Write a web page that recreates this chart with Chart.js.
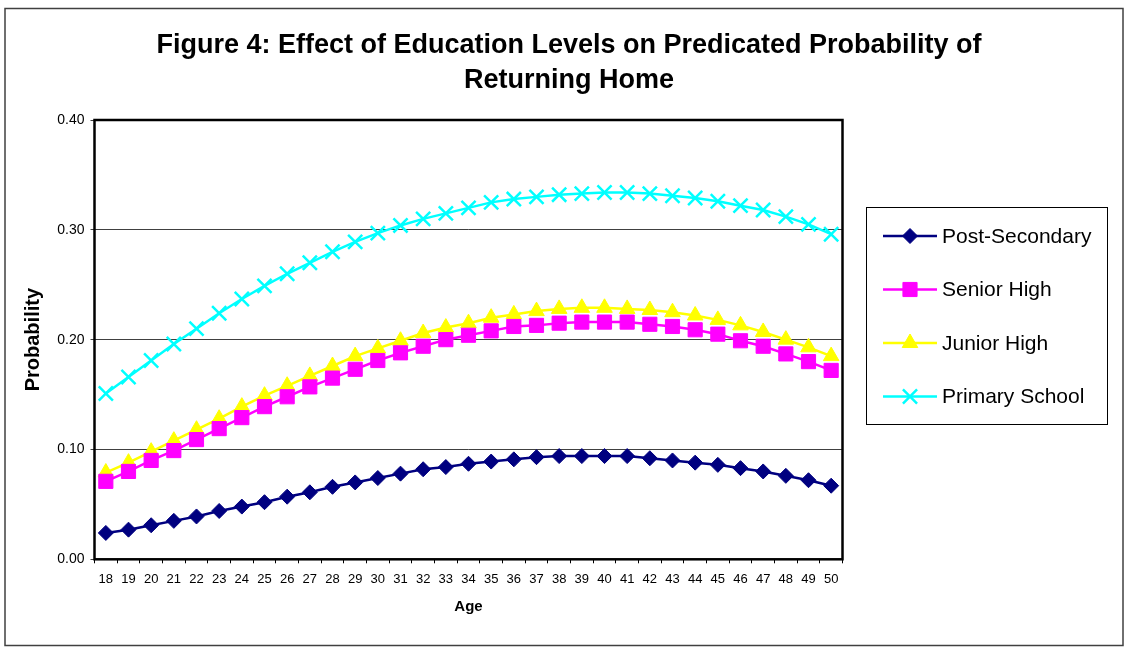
<!DOCTYPE html>
<html>
<head>
<meta charset="utf-8">
<title>Effect of Education Levels on Predicated Probability of Returning Home</title>
<script src="https://cdn.jsdelivr.net/npm/chart.js@4/dist/chart.umd.min.js"></script>
<style>
  html, body { margin: 0; padding: 0; background: #ffffff; }
  #wrap { width: 1125px; height: 648px; position: relative; }
</style>
</head>
<body>
<div id="wrap"><canvas id="chart" width="1125" height="648"></canvas></div>
<script>
// Age categories on the x axis
const ages = [18, 19, 20, 21, 22, 23, 24, 25, 26, 27, 28, 29, 30, 31, 32, 33, 34,
              35, 36, 37, 38, 39, 40, 41, 42, 43, 44, 45, 46, 47, 48, 49, 50];

// Predicted probability of returning home, by education level
const postSecondary = [0.024, 0.027, 0.031, 0.035, 0.039, 0.044, 0.048, 0.052, 0.057, 0.061, 0.066,
                       0.070, 0.074, 0.078, 0.082, 0.084, 0.087, 0.089, 0.091, 0.093, 0.094, 0.094,
                       0.094, 0.094, 0.092, 0.090, 0.088, 0.086, 0.083, 0.080, 0.076, 0.072, 0.067];
const seniorHigh = [0.071, 0.080, 0.090, 0.099, 0.109, 0.119, 0.129, 0.139, 0.148, 0.157, 0.165,
                    0.173, 0.181, 0.188, 0.194, 0.200, 0.204, 0.208, 0.212, 0.213, 0.215, 0.216,
                    0.216, 0.216, 0.214, 0.212, 0.209, 0.205, 0.199, 0.194, 0.187, 0.180, 0.172];
const juniorHigh = [0.079, 0.088, 0.098, 0.108, 0.118, 0.128, 0.139, 0.149, 0.158, 0.167, 0.176,
                    0.185, 0.192, 0.199, 0.206, 0.211, 0.215, 0.220, 0.223, 0.226, 0.228, 0.229,
                    0.229, 0.228, 0.227, 0.225, 0.222, 0.218, 0.213, 0.207, 0.200, 0.193, 0.185];
const primarySchool = [0.151, 0.166, 0.181, 0.196, 0.210, 0.224, 0.237, 0.249, 0.260, 0.270, 0.280,
                       0.289, 0.297, 0.304, 0.310, 0.315, 0.320, 0.325, 0.328, 0.330, 0.332, 0.333,
                       0.334, 0.334, 0.333, 0.331, 0.329, 0.326, 0.322, 0.318, 0.312, 0.305, 0.296];

const seriesNames = ['Post-Secondary', 'Senior High', 'Junior High', 'Primary School'];
const yTicks = [0, 0.1, 0.2, 0.3, 0.4];

const FONT = "'Liberation Sans', Arial, Helvetica, sans-serif";

function series(label, data, color, style, radius, borderW) {
  return {
    label: label,
    data: data,
    borderColor: color,
    backgroundColor: color,
    borderWidth: 2.5,
    pointStyle: style,
    pointRadius: radius,
    pointHoverRadius: radius,
    pointBackgroundColor: color,
    pointBorderColor: color,
    pointBorderWidth: borderW,
    tension: 0,
    fill: false
  };
}

const datasets = [
  series(seriesNames[0], postSecondary, '#000080', 'rectRot', 7.5, 1),
  series(seriesNames[1], seniorHigh, '#FF00FF', 'rect', 10, 1),
  series(seriesNames[2], juniorHigh, '#FFFF00', 'triangle', 9, 1),
  series(seriesNames[3], primarySchool, '#00FFFF', 'crossRot', 10, 2.5)
];

// Frame around the whole figure, plot border and the boxed legend on the right
const decorations = {
  id: 'decorations',
  beforeDraw(chart) {
    const ctx = chart.ctx;
    ctx.save();
    ctx.fillStyle = '#ffffff';
    ctx.fillRect(0, 0, chart.width, chart.height);
    ctx.restore();
  },
  beforeDatasetsDraw(chart) {
    const {ctx, chartArea: a} = chart;
    ctx.save();
    ctx.strokeStyle = '#000000';
    ctx.lineWidth = 2.5;
    ctx.strokeRect(a.left, a.top, a.right - a.left, a.bottom - a.top);
    ctx.restore();
  },
  afterDraw(chart) {
    const ctx = chart.ctx;
    ctx.save();
    // outer frame
    ctx.strokeStyle = '#404040';
    ctx.lineWidth = 1.5;
    ctx.strokeRect(5, 8.5, 1118, 637);
    // legend box
    ctx.strokeStyle = '#000000';
    ctx.lineWidth = 1;
    ctx.strokeRect(866.5, 207.5, 241, 217);
    chart.data.datasets.forEach((ds, i) => {
      const y = 236 + i * 53.5;
      ctx.strokeStyle = ds.borderColor;
      ctx.lineWidth = ds.borderWidth;
      ctx.beginPath();
      ctx.moveTo(883, y);
      ctx.lineTo(937, y);
      ctx.stroke();
      ctx.fillStyle = ds.pointBackgroundColor;
      ctx.strokeStyle = ds.pointBorderColor;
      ctx.lineWidth = ds.pointBorderWidth;
      Chart.helpers.drawPoint(ctx, {pointStyle: ds.pointStyle, rotation: 0, radius: ds.pointRadius, borderWidth: ds.pointBorderWidth}, 910, y);
      ctx.fillStyle = '#000000';
      ctx.font = '21px ' + FONT;
      ctx.textAlign = 'left';
      ctx.textBaseline = 'middle';
      ctx.fillText(ds.label, 942, y + 1);
    });
    ctx.restore();
  }
};

new Chart(document.getElementById('chart'), {
  type: 'line',
  data: { labels: ages, datasets: datasets },
  options: {
    responsive: false,
    animation: false,
    devicePixelRatio: 1,
    layout: { padding: { left: 13, right: 0, top: 0, bottom: 0 } },
    plugins: {
      legend: { display: false },
      tooltip: { enabled: false },
      title: {
        display: true,
        text: ['Figure 4: Effect of Education Levels on Predicated Probability of', 'Returning Home'],
        color: '#000000',
        font: { family: FONT, size: 27, weight: 'bold', lineHeight: 35 / 27 },
        padding: { top: 28.5, bottom: 21.5 }
      }
    },
    scales: {
      x: {
        type: 'category',
        offset: true,
        grid: { display: true, offset: true, drawOnChartArea: false, drawTicks: true, tickLength: 4, color: '#000000', lineWidth: 1 },
        border: { display: false },
        ticks: { color: '#000000', font: { family: FONT, size: 13 }, padding: 8, maxRotation: 0, autoSkip: false },
        title: { display: true, text: 'Age', color: '#000000', font: { family: FONT, size: 15, weight: 'bold', lineHeight: 1.2 }, padding: { top: 0, bottom: 32 } },
        afterFit(scale) { scale.height = 88.7; }
      },
      y: {
        type: 'linear',
        position: 'left',
        min: 0,
        max: 0.4,
        afterBuildTicks(scale) { scale.ticks = yTicks.map(v => ({ value: v })); },
        grid: { color: '#404040', lineWidth: 1, drawTicks: true, tickLength: 4 },
        border: { display: false },
        ticks: { color: '#000000', font: { family: FONT, size: 14 }, padding: 6, callback: v => Number(v).toFixed(2) },
        title: { display: true, text: 'Probability', color: '#000000', font: { family: FONT, size: 20, weight: 'bold', lineHeight: 1.2 }, padding: { top: 8, bottom: 0 } },
        afterFit(scale) { scale.width = 81.5; }
      },
      legendSpace: {
        type: 'linear',
        position: 'right',
        display: true,
        grid: { display: false, drawTicks: false },
        border: { display: false },
        ticks: { display: false },
        afterFit(scale) { scale.width = 282.5; }
      }
    }
  },
  plugins: [decorations]
});
</script>
</body>
</html>
